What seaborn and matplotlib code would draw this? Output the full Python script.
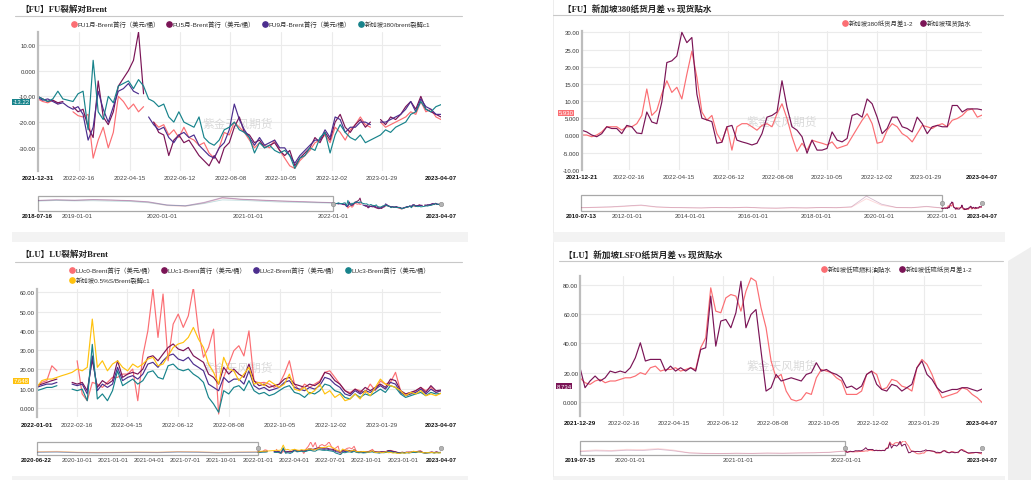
#!/usr/bin/env python3
import os

os.environ.setdefault("MPLCONFIGDIR", "/tmp/matplotlib")

import numpy as np
import pandas as pd
import seaborn as sns
from matplotlib import pyplot as plt
from matplotlib.lines import Line2D
from matplotlib.patches import Rectangle, Polygon

nan = np.nan
END_DATE = "2023-04-07"
WATERMARK = "紫金天风期货"

# ---------------- 【FU】FU裂解对Brent ----------------
FU_TITLE = "【FU】FU裂解对Brent"
FU_NAMES = ["FU1月-Brent首行（美元/桶）", "FU5月-Brent首行（美元/桶）",
            "FU9月-Brent首行（美元/桶）", "新加坡380/brent裂解c1"]
FU_XLABELS = ["2021-12-31", "2022-02-16", "2022-04-15", "2022-06-12", "2022-08-08",
              "2022-10-05", "2022-12-02", "2023-01-29", "2023-04-07"]
FU_YTICKS = [10, 0, -10, -20, -30]
FU_YLABELS = ["10.00", "0.000", "-10.00", "-20.00", "-30.00"]
FU_NAV_LABELS = ["2018-07-16", "2019-01-01", "2020-01-01", "2021-01-01", "2022-01-01", "2023-04-07"]
FU_MAIN_START = "2021-12-31"

FU1_BRENT = [
    -11, -12, -12.5, -11.5, -13, nan, nan, -16, -17.5, -18,
    -17, -34, -27, -22, -30, -24, -10, -12, -15, -13,
    -16, -14, nan, -20, -22, -21, -25, -23, -26, -22,
    -26, -27, -29, -28, -32, -34, -30, -24, -25, -20,
    -22, -24, -27, -30, -28, -29, -30, -27, -31, -34,
    -37, -38, -35, -33, -31, -28, -27, -25, -28, -22,
    -24, -27, -23, -21, -18, -21, -22, nan, -20, -22,
    -21, -20, -19, -18, -16, -17, -12, -16, -15, -18,
    -19]
FU5_BRENT = [
    -10, -11, -12, -11.5, -12.5, -12, nan, -14, -16, -15,
    -22, -26, -4, -18, -21, -16, -6, -3, 0, 4,
    15, -9, nan, -20, -24, -25, -33, -27, -25, -28,
    -27, -30, -33, -35, -37, -33, -36, -30, -28, -22,
    -18, -24, -25, -28, -27, -30, -29, -28, -31, -33,
    -31, -37, -34, -32, -30, -26, -28, -24, -27, -20,
    -17, -22, -24, -21, -19, -22, -20, nan, -19, -21,
    -18, -19, -17, -14, -12, -15, -10, -15, -16, -17,
    -18]
FU9_BRENT = [
    -10.5, -11.5, -11, -12, -13, -12.5, -14, -15, -14, -17,
    -27, -22, -8, -15, -20, -14, -8, -7, -5, -8,
    -9, nan, -18, -21, -23, -22, -26, -28, -25, -24,
    -26, -25, -29, -31, -33, -34, -30, -28, -23, -13,
    -19, -23, -26, -29, -26, -29, -28, -27, -30, -30,
    -33, -36, -33, -31, -29, -27, -27, -23, -26, -18,
    -19, -24, -22, -22, -20, -20, -21, nan, -20, -20,
    -19, -18, -17, -15, -12, -16, -11, -14, -15, -17,
    -17]
SG380_CRACK = [
    -10, -11, -12, -11, -8, -11, -11.5, -12, -9, -8,
    -23, 4, -16, -19, -10, -12.5, -6, -5, -4, -7,
    -3.5, -6, -11, -12, -14, -13, -18, -20, -16, -20,
    -21, -22, -18, -26, -28, -29, -27, -23, -22, -20,
    -23, -24, -26, -32, -28, -30, -29, -31, -32, -31,
    -33, -38, -34, -33, -30, -31, -26, -24, -32, -25,
    -21, -24, -26, -27, -25, -28, -27, -26, -25, -23,
    -24, -22, -21, -20, -17, -16, -12, -15, -16, -14,
    -13.22]
FU1_HIST = [2, 5, 3, 6, 4, 1, -6, -22, -26, -10, 14, 8, 4, 0, -3, -6, -8]
FU5_HIST = [4, 7, 5, 8, 6, 3, -3, -18, -22, -6, 18, 10, 6, 2, -1, -4, -7]
FU9_HIST = [3, 6, 4, 7, 5, 2, -4, -19, -23, -8, 16, 9, 5, 1, -2, -5, -8]
SG380_HIST = [0, 3, 1, 2, 0, -2, -8, -20, -24, -12, 6, 4, 0, -4, -6, -8, -10]

# ---------------- 【FU】新加坡380纸货月差 vs 现货贴水 ----------------
FS_TITLE = "【FU】新加坡380纸货月差 vs 现货贴水"
FS_NAMES = ["新加坡380纸货月差1-2", "新加坡现货贴水"]
FS_XLABELS = ["2021-12-21", "2022-02-16", "2022-04-15", "2022-06-12", "2022-08-08",
              "2022-10-05", "2022-12-02", "2023-01-29", "2023-04-07"]
FS_YTICKS = [30, 25, 20, 15, 10, 5, 0, -5, -10]
FS_YLABELS = ["30.00", "25.00", "20.00", "15.00", "10.00", "5.000", "0.000", "-5.000", "-10.00"]
FS_NAV_LABELS = ["2010-07-13", "2012-01-01", "2014-01-01", "2016-01-01", "2018-01-01",
                 "2020-01-01", "2022-01-01", "2023-04-07"]
FS_MAIN_START = "2021-12-21"

SG380_SPREAD = [
    0.1, 0.1, -0.4, 0.1, 1.0, 2.5, 2.5, 2.5, 1.5, 2.5,
    2.5, 3.4, 5.8, 13.5, 5.8, 7.3, 12.1, 15.9, 12.5, 14.0,
    10.6, 17.8, 24.5, 16.9, 6.8, 4.4, 5.8, 0.5, -1.9, 2.5,
    -4.3, 2.5, 3.4, 3.4, 2.5, 1.5, 2.9, 3.4, 2.5, 6.3,
    9.2, 4.9, -0.4, -4.7, -2.3, -4.3, -1.4, -1.9, -2.3, -2.8,
    -1.9, -3.8, -3.3, -2.8, -0.4, 2.0, 4.4, 6.3, 3.4, -2.3,
    -1.9, 1.5, 3.4, 2.5, 0.5, -0.4, -1.9, 0.5, 2.9, 2.5,
    2.0, 2.9, 3.4, 2.5, 4.4, 4.9, 5.8, 7.3, 7.7, 5.3,
    5.93]
SG380_SPOT = [
    1.5, 1.0, 0.1, -0.4, 0.5, 2.5, 2.0, 2.0, 0.5, 2.9,
    2.5, 0.7, 0.5, 6.8, 3.9, 3.4, 9.7, 21.2, 21.7, 23.1,
    30.0, 27.0, 28.5, 12.0, 5.0, 4.5, 4.0, -2.3, -2.0, 2.5,
    2.9, -1.4, -1.9, -2.3, -2.8, -2.3, 0.5, 5.3, 5.8, 6.8,
    15.9, 8.2, 2.5, 1.5, -0.4, -5.2, -1.4, -4.3, -4.3, -3.8,
    1.0, -1.4, -1.9, -0.9, 5.8, 6.3, 5.3, 10.6, 9.2, 5.3,
    0.5, 2.0, 5.3, 5.3, 2.5, 2.0, 1.0, 5.3, 3.4, 0.5,
    2.5, 2.9, 2.5, 2.5, 8.7, 8.7, 6.8, 7.7, 7.7, 7.7,
    7.4]
SG380_SPREAD_HIST = [3, 5, 6, 10, 14, 6, 4, 3, 2, 4, 3, 5, 2, 1, 3, 2, 4, 3, 6, 45, 15, 4, 3, 8, 2]
SG380_SPOT_HIST = [4, 6, 8, 12, 16, 8, 5, 4, 3, 5, 4, 6, 3, 2, 4, 3, 5, 4, 8, 57, 20, 5, 4, 10, 3]

# ---------------- 【LU】LU裂解对Brent ----------------
LU_TITLE = "【LU】LU裂解对Brent"
LU_NAMES = ["LUc0-Brent首行（美元/桶）", "LUc1-Brent首行（美元/桶）", "LUc2-Brent首行（美元/桶）",
            "LUc3-Brent首行（美元/桶）", "新加坡0.5%S/Brent裂解c1"]
LU_XLABELS = ["2022-01-01", "2022-02-16", "2022-04-15", "2022-06-12", "2022-08-08",
              "2022-10-05", "2022-12-02", "2023-01-29", "2023-04-07"]
LU_YTICKS = [60, 50, 40, 30, 20, 10, 0]
LU_YLABELS = ["60.00", "50.00", "40.00", "30.00", "20.00", "10.00", "0.000"]
LU_NAV_LABELS = ["2020-06-22", "2020-10-01", "2021-01-01", "2021-04-01", "2021-07-01", "2021-10-01",
                 "2022-01-01", "2022-04-01", "2022-07-01", "2022-10-01", "2023-01-01", "2023-04-07"]
LU_MAIN_START = "2022-01-01"

LUC0_BRENT = [
    10.7, 13.3, 14.2, 21.9, 19.3, nan, nan, nan, 24.5, 7.3,
    3.8, 13.3, 12.4, 10.7, 13.3, 15.9, 15.9, 17.6, 17.6, 20.2,
    3.8, 27.1, 40.1, 61.7, 36.6, 59.1, 24.5, 43.5, 48.7, 41.8,
    47.8, 62.5, 40.1, 26.3, 31.4, 40.9, -3.1, 15.9, 22.8, 29.7,
    32.3, 27.0, 40.0, 14.0, 13.0, 13.3, 12.4, 10.7, 12.4, 17.6,
    24.5, 12.4, 9.0, 12.4, 10.7, 12.4, 14.0, 18.5, 19.3, 15.9,
    12.4, 9.0, 8.0, 9.8, 9.0, 8.0, 12.4, 9.0, 14.0, 12.4,
    13.3, 18.5, 9.0, 7.3, 8.0, 9.0, 10.7, 9.0, 10.7, 8.0,
    9.0]
LUC1_BRENT = [
    11.6, 12.4, 13.3, 14.2, 15.0, nan, nan, 13.3, 12.4, 13.3,
    9.0, 25.0, 10.7, 14.2, 12.4, 14.2, 24.5, 15.9, 17.6, 18.5,
    17.6, 20.2, 26.3, 27.1, 24.5, 28.0, 31.4, 33.2, 30.6, 29.7,
    31.4, 27.1, 25.4, 23.7, 17.6, 15.9, 12.4, 21.1, 17.6, 20.2,
    17.6, 15.9, 22.8, 14.2, 11.6, 12.4, 10.7, 11.6, 12.4, 15.0,
    15.9, 12.4, 11.6, 10.7, 12.4, 11.6, 13.3, 18.5, 17.6, 14.2,
    12.4, 9.0, 7.3, 9.8, 8.1, 10.7, 9.0, 10.7, 12.4, 10.7,
    15.0, 14.2, 9.0, 7.3, 8.1, 9.0, 10.7, 8.1, 11.6, 9.0,
    9.3]
LUC2_BRENT = [
    10.7, 11.6, 12.4, 12.4, 13.3, nan, nan, 12.4, 11.6, 12.4,
    7.3, 27.0, 9.0, 12.4, 10.7, 12.4, 21.1, 14.2, 15.9, 16.8,
    15.0, 17.6, 22.8, 23.7, 21.1, 24.5, 27.1, 28.0, 25.4, 24.5,
    26.3, 22.8, 21.1, 19.3, 12.4, 10.7, 9.0, 15.9, 13.3, 15.0,
    15.0, 12.4, 19.3, 11.6, 9.8, 10.7, 9.0, 9.8, 10.7, 13.3,
    14.2, 10.7, 9.8, 9.0, 10.7, 9.8, 11.6, 15.9, 15.0, 12.4,
    10.7, 7.3, 6.4, 9.0, 7.3, 9.0, 8.1, 9.8, 11.6, 9.8,
    13.3, 12.4, 8.1, 6.4, 7.3, 8.1, 9.8, 7.3, 9.8, 8.1,
    9.0]
LUC3_BRENT = [
    9.0, 9.8, 10.7, 10.7, 11.6, nan, nan, 9.8, 9.0, 9.8,
    3.8, 33.0, 4.7, 7.3, 3.8, 9.0, 19.3, 11.6, 13.3, 15.0,
    12.4, 14.2, 18.5, 19.3, 15.9, 15.0, 21.9, 22.8, 20.2, 19.3,
    20.2, 17.6, 15.9, 13.3, 5.5, 2.1, -2.2, 9.0, 7.3, 10.7,
    11.6, 9.0, 14.2, 9.0, 7.3, 8.1, 6.4, 7.3, 9.0, 10.7,
    11.6, 8.1, 7.3, 5.5, 8.1, 7.3, 9.0, 12.4, 11.6, 9.0,
    8.1, 5.5, 4.7, 7.3, 5.5, 7.3, 6.4, 8.1, 9.8, 8.1,
    11.6, 10.7, 7.3, 5.5, 6.4, 7.3, 8.1, 6.4, 8.1, 7.3,
    7.6]
SG05_CRACK = [
    10.7, 14.2, 15.0, 15.0, 15.9, 16.8, 17.6, 18.5, 20.2, 19.3,
    21.1, 46.1, 21.1, 24.5, 19.3, 22.8, 24.5, 21.1, 19.3, 22.8,
    21.1, 22.8, 25.4, 26.3, 21.9, 22.8, 27.1, 31.4, 33.2, 34.0,
    36.6, 41.8, 35.8, 31.4, 22.8, 18.5, 12.4, 26.3, 20.2, 19.3,
    14.2, 17.6, 21.1, 12.4, 13.3, 11.6, 14.2, 12.4, 10.7, 12.4,
    17.6, 9.8, 9.0, 10.7, 7.3, 9.0, 12.4, 7.3, 9.0, 5.5,
    7.3, 3.8, 4.7, 7.3, 4.7, 9.0, 6.4, 10.7, 15.0, 12.4,
    11.6, 10.7, 9.0, 6.4, 8.1, 7.3, 9.0, 6.4, 7.3, 6.4,
    7.648]
LUC0_HIST = [12, 14, 10, 8, 9, 11, 10, 13, 12, 9, 11, 12]
LUC1_HIST = [11, 12, 9, 8, 9, 10, 9, 12, 11, 8, 10, 11]
LUC2_HIST = [10, 11, 8, 7, 8, 9, 8, 11, 10, 7, 9, 10]
LUC3_HIST = [9, 10, 7, 6, 7, 8, 7, 10, 9, 6, 8, 9]
SG05_HIST = [13, 15, 11, 10, 11, 12, 11, 14, 13, 10, 12, 13]

# ---------------- 【LU】新加坡LSFO纸货月差 vs 现货贴水 ----------------
LS_TITLE = "【LU】新加坡LSFO纸货月差 vs 现货贴水"
LS_NAMES = ["新加坡低硫燃料油贴水", "新加坡低硫纸货月差1-2"]
LS_XLABELS = ["2021-12-29", "2022-02-16", "2022-04-15", "2022-06-12", "2022-08-08",
              "2022-10-05", "2022-12-02", "2023-01-29", "2023-04-07"]
LS_YTICKS = [80, 60, 40, 20, 0]
LS_YLABELS = ["80.00", "60.00", "40.00", "20.00", "0.000"]
LS_NAV_LABELS = ["2019-07-15", "2020-01-01", "2021-01-01", "2022-01-01", "2023-04-07"]
LS_MAIN_START = "2021-12-29"

LSFO_SPOT = [
    16.4, 13.0, 11.9, 14.2, 15.3, 13.0, 14.2, 14.2, 15.3, 16.4,
    16.4, 17.6, 19.9, 18.7, 23.3, 24.4, 21.0, 22.1, 22.1, 23.3,
    21.0, 22.1, 23.3, 22.1, 37.0, 43.8, 78.1, 62.1, 61.0, 71.2,
    73.5, 72.4, 62.1, 75.8, 84.9, 82.6, 64.4, 50.7, 27.9, 16.4,
    18.7, 7.3, 1.6, 0.5, 1.6, 6.2, 5.0, 16.4, 22.1, 21.0,
    19.9, 16.4, 14.2, 5.0, 5.0, 5.0, 7.3, 18.7, 21.0, 18.7,
    8.4, 9.6, 15.3, 14.2, 10.7, 9.6, 7.3, 23.3, 29.0, 25.6,
    18.7, 9.6, 2.7, 3.9, 5.0, 6.2, 9.6, 8.4, 5.0, 2.7,
    -0.7]
LSFO_SPREAD = [
    23.3, 9.6, 14.2, 17.6, 14.2, 16.4, 21.0, 19.9, 21.0, 19.9,
    23.3, 30.1, 40.4, 27.9, 29.0, 29.0, 29.0, 21.0, 24.4, 21.0,
    23.3, 21.0, 23.3, 21.0, 35.8, 37.0, 72.4, 38.1, 55.3, 56.4,
    50.7, 61.0, 82.6, 50.7, 59.8, 63.2, 34.7, 7.3, 9.6, 18.7,
    14.2, 15.3, 16.4, 15.3, 14.2, 18.7, 19.9, 26.7, 21.0, 22.1,
    19.9, 18.7, 16.4, 9.6, 10.7, 8.4, 10.7, 18.7, 21.0, 11.9,
    8.4, 7.3, 11.9, 10.7, 7.3, 9.6, 11.9, 23.3, 27.9, 18.7,
    15.3, 9.6, 6.2, 7.3, 8.4, 8.4, 9.6, 9.6, 8.4, 7.3,
    8.734]
LSFO_SPOT_HIST = [20, 26, 22, 30, 28, 35, 25, 8, 4, 3, 5, 4, 6, 5, 7, 8, 12, 20]
LSFO_SPREAD_HIST = [15, 20, 18, 24, 22, 30, 20, 6, 3, 2, 4, 3, 5, 4, 6, 7, 10, 18]

# ---------------- style ----------------
W, H = 1031, 481
SALMON = "#FB6E73"
MAROON = "#7A1456"
INDIGO = "#4C2E8E"
TEAL = "#17838B"
YELLOW = "#FFC20E"
GRID = "#EBEBEB"
INK = "#333333"
CJK = ["Liberation Sans", "Noto Sans CJK SC"]
SERIF = ["Liberation Serif", "Noto Sans CJK SC"]


def fx(x):
    return x / W


def fy(y):
    return 1 - y / H


def add_axes(fig, left, right, top, bottom):
    return fig.add_axes([fx(left), fy(bottom), fx(right) - fx(left), fy(top) - fy(bottom)])


def to_long(names, series, start=None, end=None):
    rows = []
    for name, values in zip(names, series):
        if start is not None:
            dates = pd.date_range(start, end, periods=len(values))
        seg, gap = 0, False
        for i, v in enumerate(values):
            if np.isnan(v):
                gap = True
                continue
            if gap:
                seg, gap = seg + 1, False
            rows.append((name, i, dates[i] if start is not None else i, v, seg))
    return pd.DataFrame(rows, columns=["name", "idx", "x", "value", "seg"])


def draw_main(ax, p):
    n = len(p["series"][0])
    df = to_long(p["names"], p["series"])
    pal = dict(zip(p["names"], p["colors"]))
    sns.lineplot(data=df, x="idx", y="value", hue="name", units="seg", estimator=None,
                 hue_order=p["names"], palette=pal, linewidth=0.85, legend=False,
                 sort=False, ax=ax)
    ax.set_xlim(0, n - 1)
    ax.set_ylim(*p["ylim"])
    pos = [f * (n - 1) for f in p["xfracs"]]
    ax.set_xticks(pos, p["xlabels"])
    for x in pos[1:-1]:
        ax.axvline(x, color=GRID, lw=0.8, zorder=0.5)
    ax.set_yticks(p["yticks"], p["ylabels"])
    ax.yaxis.grid(True, color=GRID, lw=0.8)
    ax.xaxis.grid(False)
    ax.set_axisbelow(True)
    ax.set_xlabel("")
    ax.set_ylabel("")
    ax.tick_params(axis="x", length=0, pad=3.2, labelsize=4.5, labelcolor="#444444")
    ax.tick_params(axis="y", length=0, pad=1.2, labelsize=4.3, labelcolor=INK)
    labels = ax.get_xticklabels()
    for t in (labels[0], labels[-1]):
        t.set_fontweight("bold")
        t.set_color("#111111")
    for s in ["top", "right", "bottom"]:
        ax.spines[s].set_visible(False)
    ax.spines["left"].set_color("#BDBDBD")
    ax.spines["left"].set_linewidth(1.6)
    ax.text(p["wm"][0], p["wm"][1], WATERMARK, transform=ax.transAxes, ha="center", va="center",
            fontsize=8.5, color="#DADADA", family=["Noto Sans CJK SC"], zorder=1)
    last = p["series"][p["tag_series"]][-1]
    ax.annotate(p["tag_text"], xy=(0, last), xycoords=("axes fraction", "data"),
                xytext=(-6, p["tag_dy"]), textcoords="offset points", ha="right", va="center",
                fontsize=4.3, color="white",
                bbox=dict(boxstyle="square,pad=0.12", fc=p["colors"][p["tag_series"]], ec="none"))


def draw_nav(ax, p):
    pal = dict(zip(p["names"], p["colors"]))
    hist = to_long(p["names"], p["hist"], p["nav_labels"][0], p["main_start"])
    main = to_long(p["names"], p["series"], p["main_start"], END_DATE)
    sns.lineplot(data=hist, x="x", y="value", hue="name", units="seg", estimator=None,
                 hue_order=p["names"], palette=pal, linewidth=0.6, alpha=0.28,
                 legend=False, sort=False, ax=ax)
    sns.lineplot(data=main, x="x", y="value", hue="name", units="seg", estimator=None,
                 hue_order=p["names"], palette=pal, linewidth=0.7, legend=False,
                 sort=False, ax=ax)
    t0, t1 = pd.Timestamp(p["nav_labels"][0]), pd.Timestamp(END_DATE)
    ax.set_xlim(t0, t1)
    ax.set_ylim(*p["nav_ylim"])
    f = (pd.Timestamp(p["main_start"]) - t0) / (t1 - t0)
    ax.add_patch(Rectangle((0, 0), f, 1, transform=ax.transAxes, fill=False,
                           ec="#A8A8A8", lw=0.9, clip_on=False))
    ax.plot([f, 1], [0.5, 0.5], transform=ax.transAxes, ls="none", marker="o", ms=3.2,
            mfc="#B4B4B4", mec="#8A8A8A", mew=0.4, clip_on=False)
    ax.set_xticks(pd.to_datetime(p["nav_labels"]), p["nav_labels"])
    ax.set_yticks([])
    ax.grid(False)
    ax.set_xlabel("")
    ax.set_ylabel("")
    ax.tick_params(axis="x", length=0, pad=1.5, labelsize=4.3, labelcolor="#444444")
    labels = ax.get_xticklabels()
    for t in (labels[0], labels[-1]):
        t.set_fontweight("bold")
        t.set_color("#111111")
    for s in ax.spines.values():
        s.set_visible(False)


def draw_header(fig, p):
    fig.text(fx(p["title_xy"][0]), fy(p["title_xy"][1]), p["title"], ha="left", va="center",
             fontsize=6.2, fontweight="bold", color="#222222", family=SERIF)
    x0, x1, y = p["rule"]
    fig.add_artist(Line2D([fx(x0), fx(x1)], [fy(y), fy(y)], transform=fig.transFigure,
                          color="#C8C8C8", lw=0.8))
    for (x, y), name, c in zip(p["legend_xy"], p["names"], p["colors"]):
        fig.add_artist(Line2D([fx(x)], [fy(y)], transform=fig.transFigure, ls="none",
                              marker="o", ms=3.8, color=c))
        fig.text(fx(x + 3.8), fy(y), name, ha="left", va="center", fontsize=4.6, color=INK)


PANELS = [
    dict(title=FU_TITLE, names=FU_NAMES, colors=[SALMON, MAROON, INDIGO, TEAL],
         series=[FU1_BRENT, FU5_BRENT, FU9_BRENT, SG380_CRACK],
         hist=[FU1_HIST, FU5_HIST, FU9_HIST, SG380_HIST],
         xlabels=FU_XLABELS, yticks=FU_YTICKS, ylabels=FU_YLABELS, nav_labels=FU_NAV_LABELS,
         main_start=FU_MAIN_START, ylim=(-39, 15), nav_ylim=(-48, 25),
         xfracs=[0, 0.103, 0.229, 0.353, 0.478, 0.603, 0.729, 0.854, 1],
         box=(37.7, 441, 33, 172), nav_box=(37.7, 441, 197, 212), wm=(0.497, 0.345),
         tag_series=3, tag_text="-13.22", tag_dy=2,
         title_xy=(20, 10), rule=(15, 462, 17),
         legend_xy=[(74, 25), (169, 25), (265, 25), (361, 25)]),
    dict(title=FS_TITLE, names=FS_NAMES, colors=[SALMON, MAROON],
         series=[SG380_SPREAD, SG380_SPOT], hist=[SG380_SPREAD_HIST, SG380_SPOT_HIST],
         xlabels=FS_XLABELS, yticks=FS_YTICKS, ylabels=FS_YLABELS, nav_labels=FS_NAV_LABELS,
         main_start=FS_MAIN_START, ylim=(-10, 30.3), nav_ylim=(-10, 62),
         xfracs=[0, 0.118, 0.243, 0.366, 0.489, 0.613, 0.736, 0.86, 1],
         box=(581.7, 982.3, 32.3, 170.7), nav_box=(581, 982.3, 196, 211.7), wm=(0.5, 0.347),
         tag_series=0, tag_text="5.930", tag_dy=1.5,
         title_xy=(563, 9), rule=(553, 1003, 16),
         legend_xy=[(845, 24), (923, 24)]),
    dict(title=LU_TITLE, names=LU_NAMES, colors=[SALMON, MAROON, INDIGO, TEAL, YELLOW],
         series=[LUC0_BRENT, LUC1_BRENT, LUC2_BRENT, LUC3_BRENT, SG05_CRACK],
         hist=[LUC0_HIST, LUC1_HIST, LUC2_HIST, LUC3_HIST, SG05_HIST],
         xlabels=LU_XLABELS, yticks=LU_YTICKS, ylabels=LU_YLABELS, nav_labels=LU_NAV_LABELS,
         main_start=LU_MAIN_START, ylim=(-4.8, 61.7), nav_ylim=(-4, 63),
         xfracs=[0, 0.099, 0.224, 0.35, 0.476, 0.602, 0.727, 0.853, 1],
         box=(36.7, 441, 290, 418.3), nav_box=(36.7, 441, 442.7, 456), wm=(0.498, 0.39),
         tag_series=4, tag_text="7.648", tag_dy=9,
         title_xy=(20, 255), rule=(15, 462, 263.3),
         legend_xy=[(72, 271), (164, 271), (256, 271), (348, 271), (72, 281)]),
    dict(title=LS_TITLE, names=LS_NAMES, colors=[SALMON, MAROON],
         series=[LSFO_SPOT, LSFO_SPREAD], hist=[LSFO_SPOT_HIST, LSFO_SPREAD_HIST],
         xlabels=LS_XLABELS, yticks=LS_YTICKS, ylabels=LS_YLABELS, nav_labels=LS_NAV_LABELS,
         main_start=LS_MAIN_START, ylim=(-9.6, 86), nav_ylim=(-7, 86),
         xfracs=[0, 0.108, 0.232, 0.355, 0.479, 0.605, 0.729, 0.855, 1],
         box=(580, 982.3, 277.3, 416.7), nav_box=(580, 982.3, 441.7, 456), wm=(0.502, 0.359),
         tag_series=1, tag_text="8.734", tag_dy=2,
         title_xy=(564, 255), rule=(559, 1003, 261.7),
         legend_xy=[(824, 270), (902, 270)]),
]


def main():
    sns.set_theme(style="white")
    plt.rcParams["font.family"] = CJK
    plt.rcParams["axes.unicode_minus"] = False

    fig = plt.figure(figsize=(W / 100, H / 100), dpi=100, facecolor="white")

    # card backgrounds / separators
    for x0, x1 in [(12, 468), (553, 1005)]:
        fig.add_artist(Rectangle((fx(x0), fy(243)), fx(x1) - fx(x0), 10 / H,
                                 transform=fig.transFigure, fc="#F3F3F3", ec="none"))
        fig.add_artist(Rectangle((fx(x0), fy(481)), fx(x1) - fx(x0), 4 / H,
                                 transform=fig.transFigure, fc="#F3F3F3", ec="none"))
    fig.add_artist(Line2D([fx(553), fx(553)], [fy(0), fy(233)], transform=fig.transFigure,
                          color="#EAEAEA", lw=0.6))
    fig.add_artist(Line2D([fx(553), fx(553)], [fy(243), fy(477)], transform=fig.transFigure,
                          color="#EAEAEA", lw=0.6))
    fig.add_artist(Polygon([(fx(1008), fy(262)), (fx(1031), fy(248)), (fx(1031), fy(481)),
                            (fx(1008), fy(481))], closed=True, transform=fig.transFigure,
                           fc="#EFEFEF", ec="none"))

    for p in PANELS:
        ax = add_axes(fig, *p["box"])
        draw_main(ax, p)
        nav = add_axes(fig, *p["nav_box"])
        draw_nav(nav, p)
        draw_header(fig, p)

    fig.savefig("out.png", dpi=100, facecolor="white")
    plt.close(fig)


if __name__ == "__main__":
    main()
